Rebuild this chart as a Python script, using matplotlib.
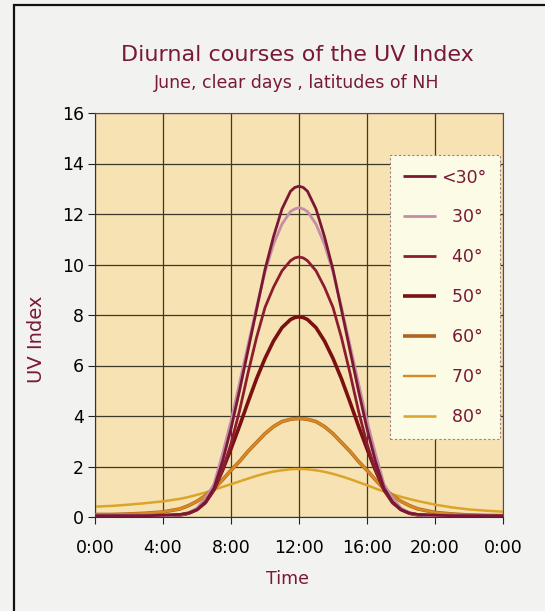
import numpy as np
import matplotlib.pyplot as plt
from matplotlib.patches import Rectangle

# time of day (hours)
hours = [0, 1, 2, 3, 4, 5, 5.5, 6, 6.5, 7, 7.5, 8, 8.5, 9, 9.5, 10, 10.5, 11, 11.5, 11.75,
         12, 12.25, 12.5, 13, 13.5, 14, 14.5, 15, 15.5, 16, 16.5, 17, 17.5, 18, 18.5, 19,
         20, 21, 22, 23, 24]

# UV index, one list per latitude
uv_lt30 = [0.05, 0.05, 0.05, 0.05, 0.07, 0.1, 0.15, 0.3, 0.6, 1.15, 2.2, 3.5, 5.0, 6.6, 8.2,
           9.8, 11.1, 12.2, 12.9, 13.05, 13.1, 13.05, 12.9, 12.2, 11.1, 9.8, 8.2, 6.6, 5.0,
           3.5, 2.2, 1.15, 0.6, 0.3, 0.15, 0.1, 0.07, 0.05, 0.05, 0.05, 0.05]
uv_30 = [0.05, 0.05, 0.05, 0.05, 0.05, 0.08, 0.15, 0.35, 0.75, 1.3, 2.5, 3.8, 5.3, 6.8, 8.3,
         9.7, 10.8, 11.6, 12.1, 12.2, 12.25, 12.2, 12.1, 11.6, 10.8, 9.7, 8.3, 6.8, 5.3,
         3.8, 2.5, 1.3, 0.75, 0.35, 0.15, 0.08, 0.05, 0.05, 0.05, 0.05, 0.05]
uv_40 = [0.05, 0.05, 0.05, 0.05, 0.05, 0.08, 0.14, 0.28, 0.55, 1.05, 1.85, 2.9, 4.2, 5.7, 7.1,
         8.3, 9.1, 9.75, 10.15, 10.26, 10.3, 10.26, 10.15, 9.75, 9.1, 8.3, 7.1, 5.7, 4.2,
         2.9, 1.85, 1.05, 0.55, 0.28, 0.14, 0.08, 0.05, 0.05, 0.05, 0.05, 0.05]
uv_50 = [0.05, 0.05, 0.05, 0.05, 0.05, 0.08, 0.15, 0.3, 0.6, 1.1, 1.85, 2.7, 3.6, 4.55, 5.47,
         6.28, 6.97, 7.5, 7.82, 7.9, 7.93, 7.9, 7.82, 7.5, 6.97, 6.28, 5.47, 4.55, 3.6,
         2.7, 1.85, 1.1, 0.6, 0.3, 0.15, 0.08, 0.05, 0.05, 0.05, 0.05, 0.05]
uv_60 = [0.1, 0.1, 0.12, 0.15, 0.2, 0.32, 0.45, 0.62, 0.85, 1.12, 1.47, 1.85, 2.2, 2.6, 2.95,
         3.3, 3.58, 3.78, 3.87, 3.89, 3.9, 3.89, 3.87, 3.78, 3.58, 3.3, 2.95, 2.6, 2.2,
         1.85, 1.47, 1.12, 0.85, 0.62, 0.45, 0.32, 0.18, 0.12, 0.08, 0.06, 0.05]
uv_70 = [0.1, 0.1, 0.12, 0.15, 0.2, 0.32, 0.45, 0.62, 0.85, 1.12, 1.47, 1.85, 2.2, 2.6, 2.95,
         3.3, 3.58, 3.78, 3.87, 3.89, 3.9, 3.89, 3.87, 3.78, 3.58, 3.3, 2.95, 2.6, 2.2,
         1.85, 1.47, 1.12, 0.85, 0.62, 0.45, 0.32, 0.18, 0.12, 0.08, 0.06, 0.05]
uv_80 = [0.41, 0.44, 0.49, 0.55, 0.62, 0.72, 0.79, 0.88, 0.97, 1.08, 1.19, 1.3, 1.41, 1.52,
         1.63, 1.72, 1.8, 1.85, 1.89, 1.9, 1.9, 1.9, 1.89, 1.85, 1.79, 1.71, 1.61, 1.5,
         1.38, 1.26, 1.13, 1.01, 0.9, 0.8, 0.71, 0.63, 0.49, 0.38, 0.3, 0.25, 0.21]

labels = ['<30°', '\u200730°', '\u200740°', '\u200750°', '\u200760°', '\u200770°', '\u200780°']
series = [uv_lt30, uv_30, uv_40, uv_50, uv_60, uv_70, uv_80]
colors = ['#7a1833', '#c48ea8', '#8c1c30', '#7a1010', '#b0641e', '#d88a22', '#dba42a']
widths = [2.0, 2.0, 2.0, 2.6, 2.6, 1.7, 1.8]
zorders = [6, 5, 4, 3, 2.5, 2.6, 2.2]

xticks = [0, 4, 8, 12, 16, 20, 24]
xticklabels = ['0:00', '4:00', '8:00', '12:00', '16:00', '20:00', '0:00']
yticks = [0, 2, 4, 6, 8, 10, 12, 14, 16]

maroon = '#7a1838'

fig = plt.figure(figsize=(5.45, 6.11), dpi=100, facecolor='#f2f2f1')
# scanned frame
fig.add_artist(Rectangle((14 / 545, -0.1), 1.2, 1.1 - 5 / 611, transform=fig.transFigure,
                         fill=False, edgecolor='#111111', linewidth=1.6))

ax = fig.add_axes([95 / 545, 1 - 517 / 611, 408 / 545, 404 / 611])
ax.set_facecolor('#f6e2b2')

for y, lab, c, lw, z in zip(series, labels, colors, widths, zorders):
    ax.plot(hours, y, color=c, linewidth=lw, label=lab, zorder=z,
            solid_capstyle='butt', solid_joinstyle='round')

ax.set_xlim(0, 24)
ax.set_ylim(0, 16)
ax.set_xticks(xticks)
ax.set_xticklabels(xticklabels)
ax.set_yticks(yticks)
ax.grid(True, color='#3a3a2a', linewidth=0.9, zorder=1)
ax.set_axisbelow(True)
ax.tick_params(axis='x', labelsize=12.5, length=5, pad=11, color='#222222')
ax.tick_params(axis='y', labelsize=12.5, length=5, pad=3, color='#222222')

for s in ['top', 'right']:
    ax.spines[s].set_color('#8b3050')
for s in ['left', 'bottom']:
    ax.spines[s].set_color('#333333')

ax.set_xlabel('Time', fontsize=12.5, color=maroon)
ax.xaxis.set_label_coords(0.473, -0.13)
ax.set_ylabel('UV Index', fontsize=14, color=maroon)
ax.yaxis.set_label_coords(-0.12, 0.44)

leg = ax.legend(loc='upper right', bbox_to_anchor=(0.993, 0.896), borderaxespad=0,
                fontsize=12.5, handlelength=1.9, handletextpad=0.3, labelspacing=1.26,
                borderpad=0.78, fancybox=False, framealpha=1)
leg.get_frame().set_facecolor('#fbfbe6')
leg.get_frame().set_edgecolor('#9a8080')
leg.get_frame().set_linewidth(0.8)
leg.get_frame().set_linestyle((0, (2, 2)))
leg.set_zorder(10)
for t in leg.get_texts():
    t.set_color(maroon)

fig.text(0.545, 1 - 61 / 611, 'Diurnal courses of the UV Index', ha='center', va='baseline',
         fontsize=16, color=maroon)
fig.text(0.545, 1 - 88 / 611, 'June, clear days , latitudes of NH', ha='center',
         va='baseline', fontsize=12.5, color=maroon)

fig.savefig('out.png', dpi=100, facecolor=fig.get_facecolor())
